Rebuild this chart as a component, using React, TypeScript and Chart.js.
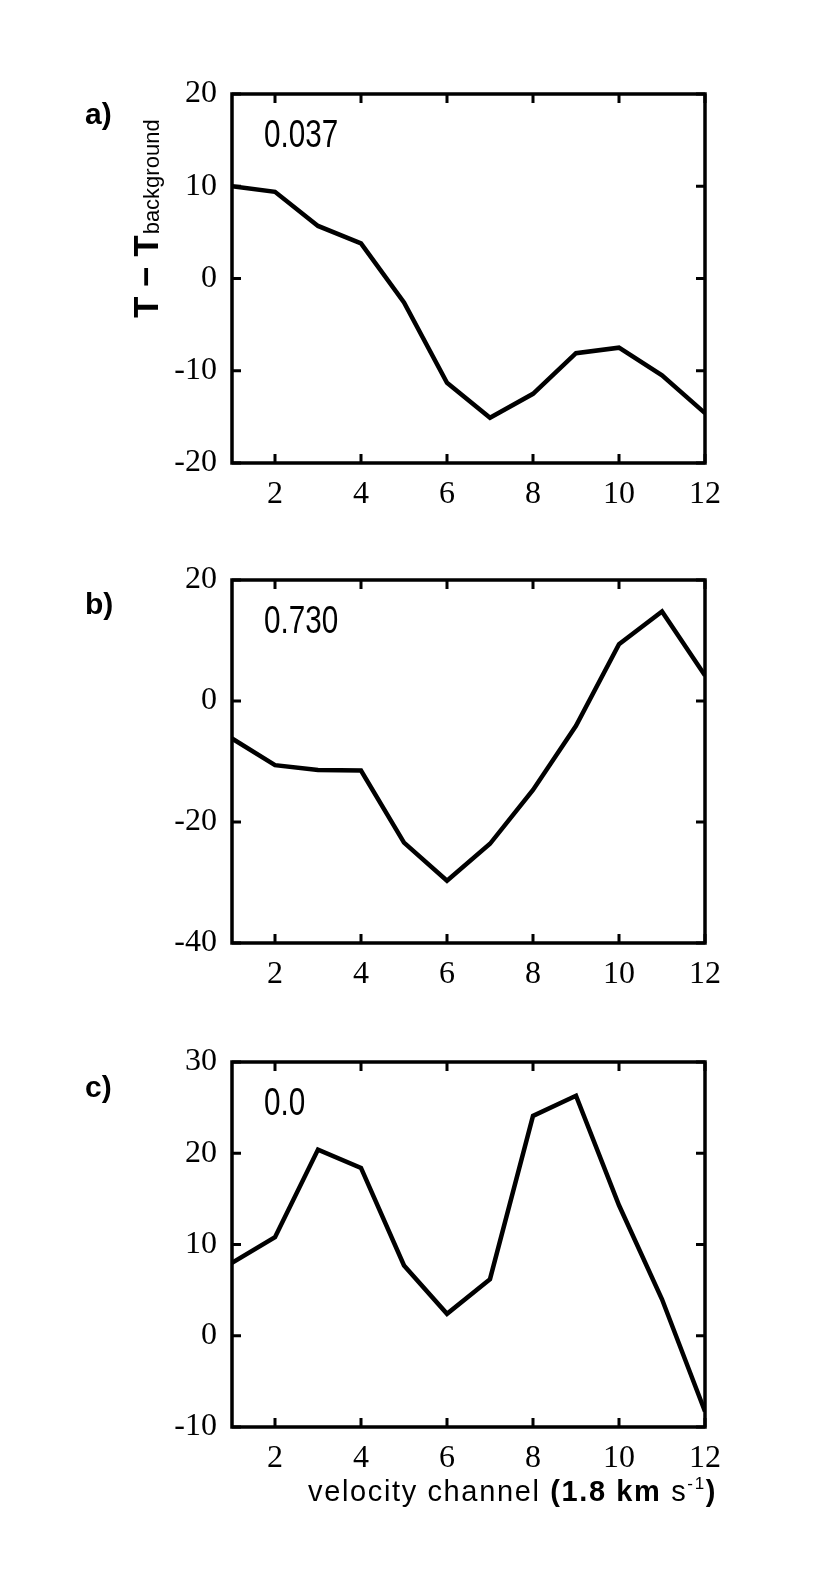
import React, { useEffect, useRef } from "react";
import { Chart, registerables } from "chart.js";

Chart.register(...registerables);

// ---- data ----
const channels = [1, 2, 3, 4, 5, 6, 7, 8, 9, 10, 11, 12];
const seriesA = [10.0, 9.4, 5.7, 3.8, -2.6, -11.3, -15.1, -12.5, -8.1, -7.5, -10.5, -14.6];
const seriesB = [-6.2, -10.6, -11.4, -11.5, -23.4, -29.7, -23.6, -14.7, -4.1, 9.4, 14.8, 4.2];
const seriesC = [8.0, 10.8, 20.4, 18.4, 7.7, 2.4, 6.2, 24.1, 26.3, 14.3, 4.0, -8.3];
const yTicksA = [-20, -10, 0, 10, 20];
const yTicksB = [-40, -20, 0, 20];
const yTicksC = [-10, 0, 10, 20, 30];
const xTickStep = 2;
const panelLabels = ["a)", "b)", "c)"];
const annotations = ["0.037", "0.730", "0.0"];
const yTitleMain = "T \u2212 T";
const yTitleSub = "background";
const xTitleParts = ["velocity channel ", "(1.8 km", " s", "-1", ")"];

const PAGE_W = 830;
const PLOT_LEFT = 232;
const PLOT_RIGHT = 705;
const SERIF = '"Liberation Serif", "Times New Roman", serif';
const SANS = '"Liberation Sans", Arial, sans-serif';

type PanelCfg = {
  values: number[];
  yTicks: number[];
  label: string;
  note: string;
  canvasTop: number;
  canvasH: number;
  plotTop: number; // absolute
  plotBottom: number; // absolute
  labelBaseline: number; // absolute
  tickPad: number;
  extra?: (ctx: CanvasRenderingContext2D, offY: number) => void;
};

const frameTicks = {
  id: "frameTicks",
  afterDatasetsDraw(chart: any) {
    const { ctx, chartArea, scales } = chart;
    const { left, right, top, bottom } = chartArea;
    const x = scales.x;
    const y = scales.y;
    const L = 9;
    ctx.save();
    ctx.strokeStyle = "#000";
    ctx.lineWidth = 3;
    ctx.beginPath();
    for (const t of x.ticks) {
      const px = x.getPixelForValue(t.value);
      ctx.moveTo(px, bottom);
      ctx.lineTo(px, bottom - L);
      ctx.moveTo(px, top);
      ctx.lineTo(px, top + L);
    }
    for (const t of y.ticks) {
      const py = y.getPixelForValue(t.value);
      ctx.moveTo(left, py);
      ctx.lineTo(left + L, py);
      ctx.moveTo(right, py);
      ctx.lineTo(right - L, py);
    }
    ctx.stroke();
    ctx.lineWidth = 3.5;
    ctx.strokeRect(left, top, right - left, bottom - top);
    ctx.restore();
  },
};

function drawYTitle(ctx: CanvasRenderingContext2D, offY: number) {
  ctx.save();
  ctx.translate(158, 318 - offY);
  ctx.rotate(-Math.PI / 2);
  ctx.fillStyle = "#000";
  ctx.textBaseline = "alphabetic";
  ctx.textAlign = "left";
  ctx.font = `bold 35px ${SANS}`;
  ctx.fillText(yTitleMain, 0, 0);
  const w = ctx.measureText(yTitleMain).width;
  ctx.font = `22px ${SANS}`;
  ctx.fillText(yTitleSub, w + 1, 1);
  ctx.restore();
}

function drawXTitle(ctx: CanvasRenderingContext2D, offY: number) {
  ctx.save();
  ctx.fillStyle = "#000";
  ctx.textBaseline = "alphabetic";
  ctx.textAlign = "left";
  const fonts = [
    `29px ${SANS}`,
    `bold 29px ${SANS}`,
    `29px ${SANS}`,
    `17px ${SANS}`,
    `bold 29px ${SANS}`,
  ];
  const dy = [0, 0, 0, -12, 0];
  const target = 409;
  const widths0 = xTitleParts.map((p, i) => {
    ctx.font = fonts[i];
    return ctx.measureText(p).width;
  });
  const total0 = widths0.reduce((a, b) => a + b, 0);
  const nChars = xTitleParts.join("").length;
  const ls = Math.max(0, (target - total0) / nChars);
  (ctx as any).letterSpacing = `${ls.toFixed(2)}px`;
  const widths = xTitleParts.map((p, i) => {
    ctx.font = fonts[i];
    return ctx.measureText(p).width;
  });
  const total = widths.reduce((a, b) => a + b, 0);
  let x = 717 - total;
  const base = 1501 - offY;
  xTitleParts.forEach((p, i) => {
    ctx.font = fonts[i];
    ctx.fillText(p, x, base + dy[i]);
    x += widths[i];
  });
  ctx.restore();
}

const panels: PanelCfg[] = [
  {
    values: seriesA,
    yTicks: yTicksA,
    label: panelLabels[0],
    note: annotations[0],
    canvasTop: 0,
    canvasH: 540,
    plotTop: 94,
    plotBottom: 463,
    labelBaseline: 124,
    tickPad: 12,
    extra: drawYTitle,
  },
  {
    values: seriesB,
    yTicks: yTicksB,
    label: panelLabels[1],
    note: annotations[1],
    canvasTop: 540,
    canvasH: 480,
    plotTop: 580,
    plotBottom: 943,
    labelBaseline: 614,
    tickPad: 12,
  },
  {
    values: seriesC,
    yTicks: yTicksC,
    label: panelLabels[2],
    note: annotations[2],
    canvasTop: 1020,
    canvasH: 554,
    plotTop: 1062,
    plotBottom: 1427,
    labelBaseline: 1097,
    tickPad: 12,
    extra: drawXTitle,
  },
];

function Panel({ cfg }: { cfg: PanelCfg }) {
  const ref = useRef<HTMLCanvasElement | null>(null);
  useEffect(() => {
    if (!ref.current) return;
    const offY = cfg.canvasTop;
    const textPlugin = {
      id: "panelText",
      afterDraw(chart: any) {
        const ctx: CanvasRenderingContext2D = chart.ctx;
        const { left, top } = chart.chartArea;
        ctx.save();
        ctx.fillStyle = "#000";
        ctx.textBaseline = "alphabetic";
        ctx.textAlign = "left";
        ctx.font = `bold 30px ${SANS}`;
        ctx.fillText(cfg.label, 85, cfg.labelBaseline - offY);
        ctx.translate(left + 32, top + 53);
        ctx.scale(0.78, 1);
        ctx.font = `38px ${SANS}`;
        ctx.fillText(cfg.note, 0, 0);
        ctx.restore();
        if (cfg.extra) cfg.extra(ctx, offY);
      },
    };
    const yt = cfg.yTicks;
    const chart = new Chart(ref.current, {
      type: "line",
      data: {
        datasets: [
          {
            data: channels.map((c, i) => ({ x: c, y: cfg.values[i] })),
            borderColor: "#000",
            borderWidth: 4.5,
            pointRadius: 0,
            tension: 0,
            fill: false,
            borderJoinStyle: "miter",
          },
        ],
      },
      options: {
        responsive: false,
        animation: false,
        devicePixelRatio: 1,
        layout: {
          padding: {
            top: cfg.plotTop - offY,
            right: PAGE_W - PLOT_RIGHT,
            bottom: 0,
            left: 0,
          },
        },
        plugins: {
          legend: { display: false },
          tooltip: { enabled: false },
        },
        scales: {
          x: {
            type: "linear",
            min: channels[0],
            max: channels[channels.length - 1],
            grid: { display: false, drawTicks: false },
            border: { display: false },
            ticks: {
              stepSize: xTickStep,
              includeBounds: false,
              autoSkip: false,
              maxRotation: 0,
              padding: cfg.tickPad,
              color: "#000",
              font: { family: SERIF, size: 32 },
            },
            afterFit(s: any) {
              s.height = cfg.canvasTop + cfg.canvasH - cfg.plotBottom;
            },
          },
          y: {
            type: "linear",
            min: yt[0],
            max: yt[yt.length - 1],
            grid: { display: false, drawTicks: false },
            border: { display: false },
            ticks: {
              stepSize: yt[1] - yt[0],
              autoSkip: false,
              padding: 15,
              color: "#000",
              font: { family: SERIF, size: 32 },
            },
            afterFit(s: any) {
              s.width = PLOT_LEFT;
            },
          },
        },
      },
      plugins: [frameTicks, textPlugin],
    } as any);
    return () => chart.destroy();
  }, [cfg]);
  return (
    <canvas
      ref={ref}
      width={PAGE_W}
      height={cfg.canvasH}
      style={{
        position: "absolute",
        left: 0,
        top: cfg.canvasTop,
        width: PAGE_W,
        height: cfg.canvasH,
      }}
    />
  );
}

export default function App() {
  return (
    <div
      style={{
        position: "absolute",
        left: 0,
        top: 0,
        width: PAGE_W,
        height: 1574,
        background: "#fff",
        overflow: "hidden",
      }}
    >
      {panels.map((p, i) => (
        <Panel key={i} cfg={p} />
      ))}
    </div>
  );
}
